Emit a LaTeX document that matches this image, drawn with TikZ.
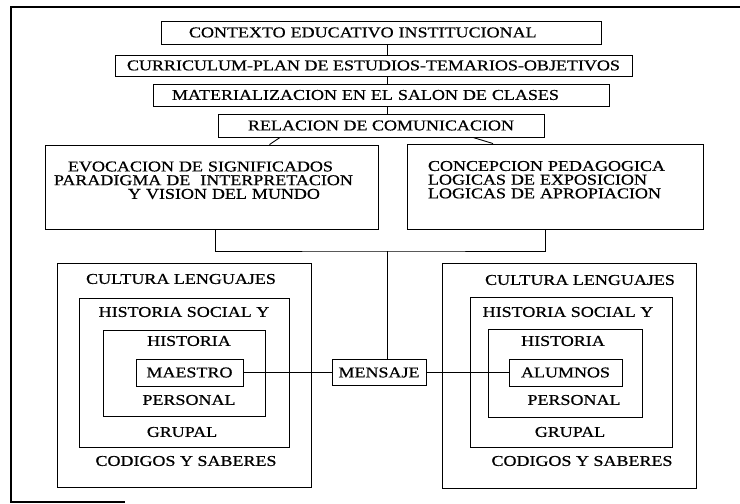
\documentclass[tikz,border=0pt]{standalone}
\usepackage{fontspec}
\setmainfont{Liberation Serif}[FakeStretch=1.2,FakeBold=0.6]
\begin{document}
\begin{tikzpicture}[x=1pt,y=-1pt,
    every node/.style={font=\fontsize{15}{13.7}\selectfont},
    caja/.style={draw,line width=0.9pt,inner sep=0pt},
    marco/.style={draw,line width=0.9pt,inner sep=0pt},
    rotulo/.style={inner sep=0pt},
    linea/.style={line width=0.9pt}]
  \useasboundingbox (0,0) rectangle (740,504);
  \draw[line width=1.6pt] (740,7) -- (11,7) -- (11,502) -- (125,502);

  \node[caja,minimum width=440pt,minimum height=23pt,inner xsep=28pt,text width=384pt,align=left] (ctx) at (381,32.5) {CONTEXTO EDUCATIVO INSTITUCIONAL};
  \node[caja,minimum width=517pt,minimum height=21pt] (cur) at (373.5,65.5) {CURRICULUM-PLAN DE ESTUDIOS-TEMARIOS-OBJETIVOS};
  \node[caja,minimum width=456pt,minimum height=22pt,inner xsep=19pt,text width=418pt,align=left] (mat) at (381,95) {MATERIALIZACION EN EL SALON DE CLASES};
  \node[caja,minimum width=326pt,minimum height=23pt] (rel) at (381,125.5) {RELACION DE COMUNICACION};
  \node[caja,minimum width=333pt,minimum height=84pt,inner xsep=9pt,text width=315pt,align=left] (evo) at (211.5,187)
    {\hspace*{14pt}EVOCACION DE SIGNIFICADOS\\PARADIGMA DE\ \ INTERPRETACION\\\hspace*{74pt}Y VISION DEL MUNDO\\\mbox{}};
  \node[caja,minimum width=296pt,minimum height=85pt,inner xsep=21pt,text width=254pt,align=left] (con) at (555,186.5)
    {CONCEPCION PEDAGOGICA\\LOGICAS DE EXPOSICION\\LOGICAS DE APROPIACION\\\mbox{}};

  \node[marco,minimum width=254pt,minimum height=224pt] (mL1) at (184,375) {};
  \node[marco,minimum width=210pt,minimum height=149pt] (mL2) at (184,372.5) {};
  \node[marco,minimum width=162pt,minimum height=86pt] (mL3) at (184,373) {};
  \node[caja,minimum width=107pt,minimum height=27pt] (mae) at (189.5,372.5) {MAESTRO};
  \node[rotulo] (tL1) at (181,279) {CULTURA LENGUAJES};
  \node[rotulo] (tL2) at (184,312) {HISTORIA SOCIAL Y};
  \node[rotulo] (tL3) at (189,341) {HISTORIA};
  \node[rotulo] (tL4) at (189,400) {PERSONAL};
  \node[rotulo] (tL5) at (182,432) {GRUPAL};
  \node[rotulo] (tL6) at (186,461) {CODIGOS Y SABERES};

  \node[marco,minimum width=254pt,minimum height=225pt] (mR1) at (569,375.5) {};
  \node[marco,minimum width=202pt,minimum height=150pt] (mR2) at (571,372) {};
  \node[marco,minimum width=154pt,minimum height=88pt] (mR3) at (565,373) {};
  \node[caja,minimum width=113pt,minimum height=27pt] (alu) at (565.5,372.5) {ALUMNOS};
  \node[rotulo] (tR1) at (580,280) {CULTURA LENGUAJES};
  \node[rotulo] (tR2) at (568,312) {HISTORIA SOCIAL Y};
  \node[rotulo] (tR3) at (563,341) {HISTORIA};
  \node[rotulo] (tR4) at (574,400) {PERSONAL};
  \node[rotulo] (tR5) at (570,432) {GRUPAL};
  \node[rotulo] (tR6) at (582,461) {CODIGOS Y SABERES};

  \node[caja,minimum width=94pt,minimum height=26pt] (msg) at (379,372.5) {MENSAJE};
  \coordinate (junta) at (387,251);

  \draw[linea] ([xshift=6pt]ctx.south) -- ([xshift=6pt]ctx.south |- cur.north);
  \draw[linea] ([xshift=6pt]ctx.south |- cur.south) -- ([xshift=6pt]ctx.south |- mat.north);
  \draw[linea] ([xshift=6pt]ctx.south |- mat.south) -- ([xshift=6pt]ctx.south |- rel.north);
  \draw[linea] ([xshift=-101pt]rel.south) -- ([xshift=58pt]evo.north);
  \draw[linea] ([xshift=92pt]rel.south) -- ([xshift=-62pt]con.north);
  \draw[linea] ([xshift=3.5pt]evo.south) |- (junta) -| ([xshift=-10pt]con.south);
  \draw[linea] (junta) -- (junta |- msg.north);
  \draw[linea] (mae.east) -- (mae.east -| msg.west);
  \draw[linea] (msg.east) -- (msg.east -| alu.west);
\end{tikzpicture}
\end{document}
